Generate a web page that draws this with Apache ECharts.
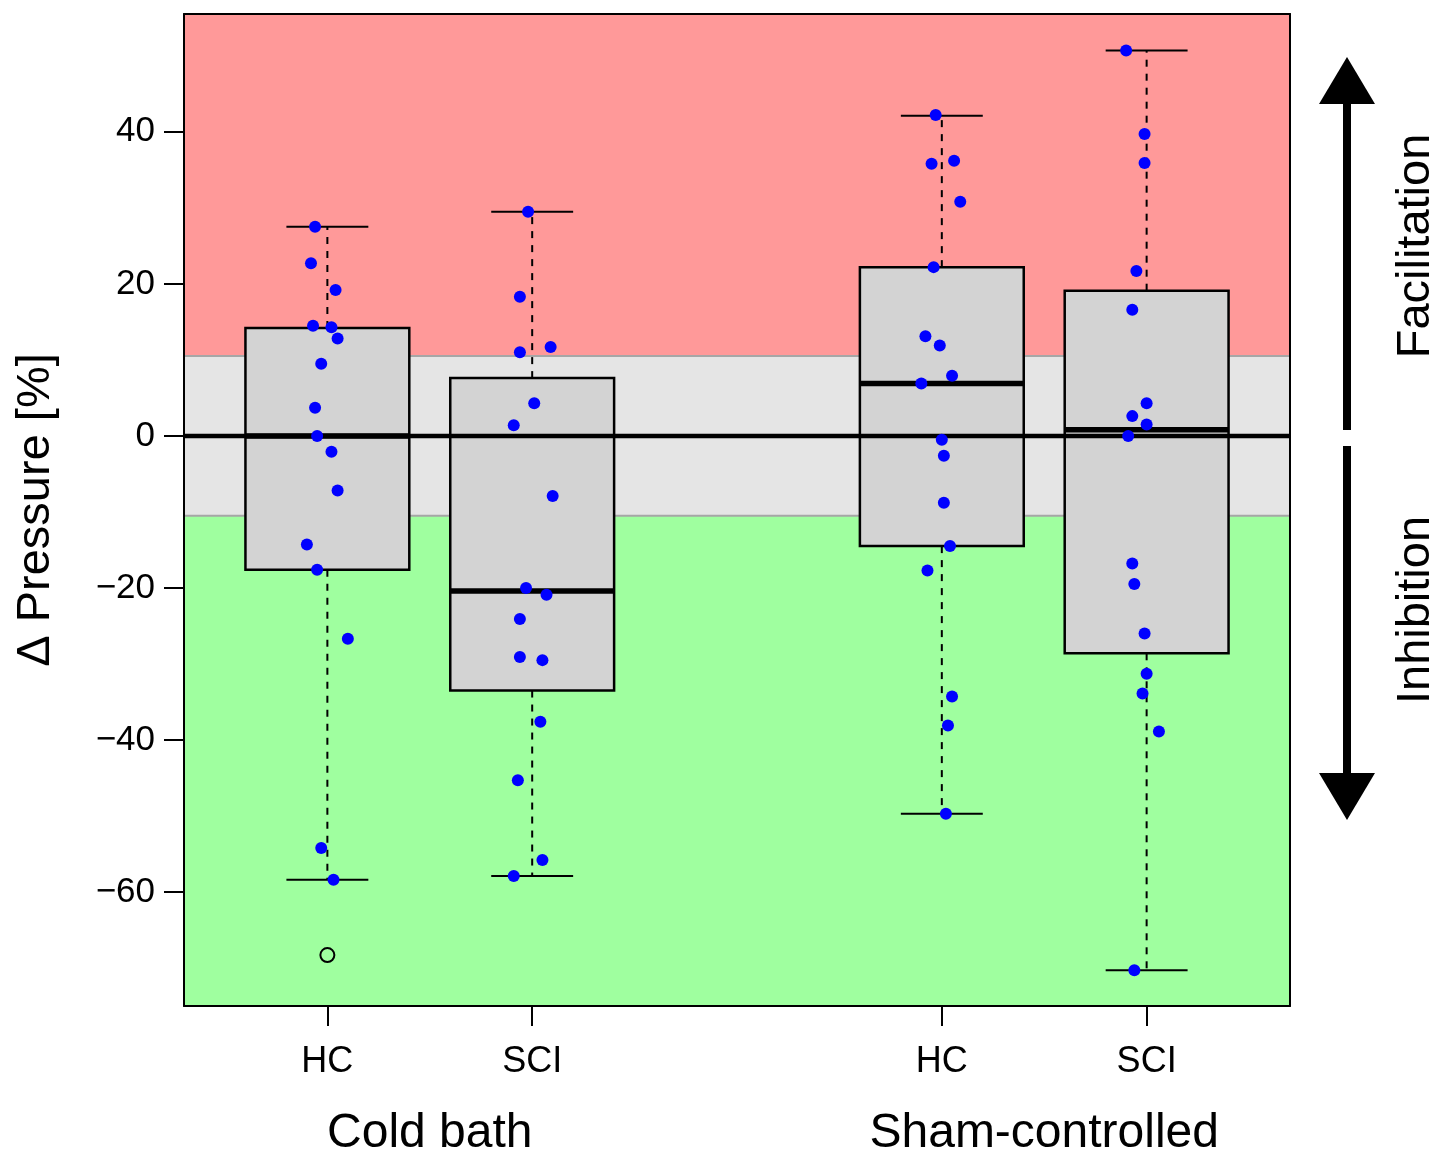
<!DOCTYPE html>
<html>
<head>
<meta charset="utf-8">
<script src="https://cdn.jsdelivr.net/npm/echarts@6/dist/echarts.min.js"></script>
<style>
  html, body { margin: 0; padding: 0; background: #fff; }
  #chart { width: 1440px; height: 1156px; }
</style>
</head>
<body>
<div id="chart"></div>
<script>
// data
var xTickValues = [1, 2, 4, 5];
var xTickLabels = ['HC', 'SCI', 'HC', 'SCI'];
var groupValues = [1.5, 4.5];
var groupLabels = ['Cold bath', 'Sham-controlled'];
var yTickValues = [-60, -40, -20, 0, 20, 40];

// band edges: inhibition / neutral / facilitation
var bandEdges = [-75, -10.5, 10.5, 55.5];

// [position, low whisker, q1, median, q3, high whisker]
var boxStats = [
  [1, -58.4, -17.6, 0, 14.2, 27.5],
  [2, -57.9, -33.5, -20.4, 7.6, 29.5],
  [4, -49.7, -14.5, 6.9, 22.2, 42.1],
  [5, -70.3, -28.6, 0.8, 19.1, 50.7]
];
var outliers = [[1, -68.3]];

// jittered points [x, value]
var hcCold = [[0.94,27.5],[0.92,22.7],[1.04,19.2],[0.93,14.5],[1.02,14.3],[1.05,12.8],[0.97,9.5],[0.94,3.7],
  [0.95,0],[1.02,-2.1],[1.05,-7.2],[0.90,-14.3],[0.95,-17.6],[1.10,-26.7],[0.97,-54.2],[1.03,-58.4]];
var sciCold = [[1.98,29.5],[1.94,18.3],[2.09,11.7],[1.94,11.0],[2.01,4.3],[1.91,1.4],[2.10,-7.9],[1.97,-20.0],
  [2.07,-20.9],[1.94,-24.1],[1.94,-29.1],[2.05,-29.5],[2.04,-37.6],[1.93,-45.3],[2.05,-55.8],[1.91,-57.9]];
var hcSham = [[3.97,42.2],[3.95,35.8],[4.06,36.2],[4.09,30.8],[3.96,22.2],[3.92,13.1],[3.99,11.9],[4.05,7.9],
  [3.90,6.9],[4.00,-0.5],[4.01,-2.6],[4.01,-8.8],[4.04,-14.5],[3.93,-17.7],[4.05,-34.3],[4.03,-38.1],[4.02,-49.7]];
var sciSham = [[4.90,50.7],[4.99,39.7],[4.99,35.9],[4.95,21.7],[4.93,16.6],[5.00,4.3],[4.93,2.6],[5.00,1.5],
  [4.91,0.0],[4.93,-16.8],[4.94,-19.5],[4.99,-26.0],[5.00,-31.3],[4.98,-33.9],[5.06,-38.9],[4.94,-70.3]];

var xMin = 0.3, xMax = 5.7;
var yMin = -75, yMax = 55.5;
var boxWidth = 0.8, capWidth = 0.4;
var bandColors = ['#9FFF9F', '#E5E5E5', '#FF9999'];
var font = 'Liberation Sans, Arial, Helvetica, sans-serif';

var myChart = echarts.init(document.getElementById('chart'));

var bandData = [];
for (var i = 0; i < bandEdges.length - 1; i++) {
  bandData.push([bandEdges[i], bandEdges[i + 1]]);
}

function bandItem(params, api) {
  var lo = api.value(0), hi = api.value(1);
  var p1 = api.coord([xMin, hi]);
  var p2 = api.coord([xMax, lo]);
  return {
    type: 'rect',
    shape: { x: p1[0], y: p1[1], width: p2[0] - p1[0], height: p2[1] - p1[1] },
    style: { fill: bandColors[params.dataIndex] }
  };
}

function edgeItem(params, api) {
  var v = api.value(0);
  var a = api.coord([xMin, v]), b = api.coord([xMax, v]);
  return {
    type: 'line',
    shape: { x1: a[0], y1: a[1], x2: b[0], y2: b[1] },
    style: { stroke: '#A6A6A6', lineWidth: 2 }
  };
}

function boxItem(params, api) {
  var x = api.value(0);
  var lo = api.value(1), q1 = api.value(2), med = api.value(3), q3 = api.value(4), hi = api.value(5);
  var hw = api.size([boxWidth, 0])[0] / 2;
  var cw = api.size([capWidth, 0])[0] / 2;
  var pLo = api.coord([x, lo]), pQ1 = api.coord([x, q1]), pMed = api.coord([x, med]);
  var pQ3 = api.coord([x, q3]), pHi = api.coord([x, hi]);
  var dash = { stroke: '#000', lineWidth: 2, lineDash: [7, 7] };
  var solid = { stroke: '#000', lineWidth: 2 };
  return {
    type: 'group',
    children: [
      { type: 'line', shape: { x1: pQ3[0], y1: pQ3[1], x2: pHi[0], y2: pHi[1] }, style: dash },
      { type: 'line', shape: { x1: pQ1[0], y1: pQ1[1], x2: pLo[0], y2: pLo[1] }, style: dash },
      { type: 'line', shape: { x1: pHi[0] - cw, y1: pHi[1], x2: pHi[0] + cw, y2: pHi[1] }, style: solid },
      { type: 'line', shape: { x1: pLo[0] - cw, y1: pLo[1], x2: pLo[0] + cw, y2: pLo[1] }, style: solid },
      { type: 'rect', shape: { x: pQ3[0] - hw, y: pQ3[1], width: hw * 2, height: pQ1[1] - pQ3[1] },
        style: { fill: '#D3D3D3', stroke: '#000', lineWidth: 2.5 } },
      { type: 'line', shape: { x1: pMed[0] - hw, y1: pMed[1], x2: pMed[0] + hw, y2: pMed[1] },
        style: { stroke: '#000', lineWidth: 5.5 } }
    ]
  };
}

function pointSeries(data) {
  return {
    type: 'scatter',
    data: data,
    symbol: 'circle',
    symbolSize: 12,
    itemStyle: { color: '#0000FF', opacity: 1 },
    z: 5,
    silent: true
  };
}

var option = {
  animation: false,
  grid: { left: 184, right: 150, top: 14, bottom: 150, outerBoundsMode: 'none', containLabel: false },
  xAxis: [
    {
      type: 'value', min: xMin, max: xMax, position: 'bottom', z: 10,
      axisLine: { show: true, onZero: false, lineStyle: { color: '#000', width: 2 } },
      axisTick: { show: true, customValues: xTickValues, length: 20, lineStyle: { color: '#000', width: 2 } },
      axisLabel: {
        customValues: xTickValues, margin: 38, color: '#000', fontSize: 36, fontFamily: font,
        formatter: function (v) { return xTickLabels[xTickValues.indexOf(v)]; }
      },
      splitLine: { show: false }
    },
    {
      type: 'value', min: xMin, max: xMax, position: 'bottom', z: 10,
      axisLine: { show: false }, axisTick: { show: false },
      axisLabel: {
        customValues: groupValues, margin: 104, color: '#000', fontSize: 48, fontFamily: font,
        formatter: function (v) { return groupLabels[groupValues.indexOf(v)]; }
      },
      splitLine: { show: false }
    },
    {
      type: 'value', min: xMin, max: xMax, position: 'top', z: 10,
      axisLine: { show: true, onZero: false, lineStyle: { color: '#000', width: 2 } },
      axisTick: { show: false }, axisLabel: { show: false }, splitLine: { show: false }
    }
  ],
  yAxis: [
    {
      type: 'value', min: yMin, max: yMax, position: 'left', z: 10,
      name: 'Δ Pressure [%]', nameLocation: 'middle', nameRotate: 90, nameGap: 124,
      nameTextStyle: { color: '#000', fontSize: 47, fontFamily: font },
      axisLine: { show: true, onZero: false, lineStyle: { color: '#000', width: 2 } },
      axisTick: { show: true, customValues: yTickValues, length: 20, lineStyle: { color: '#000', width: 2 } },
      axisLabel: {
        customValues: yTickValues, margin: 29, color: '#000', fontSize: 35, fontFamily: font,
        formatter: function (v) { return String(v).replace('-', '\u2212'); }
      },
      splitLine: { show: false }
    },
    {
      type: 'value', min: yMin, max: yMax, position: 'right', z: 10,
      axisLine: { show: true, onZero: false, lineStyle: { color: '#000', width: 2 } },
      axisTick: { show: false }, axisLabel: { show: false }, splitLine: { show: false }
    }
  ],
  series: [
    {
      type: 'custom', renderItem: bandItem, data: bandData, z: 1, silent: true,
      encode: { x: -1, y: [0, 1] }
    },
    {
      type: 'custom', renderItem: edgeItem, data: [[bandEdges[1]], [bandEdges[2]]], z: 1, silent: true,
      encode: { x: -1, y: 0 }
    },
    {
      type: 'custom', renderItem: boxItem, data: boxStats, z: 2, silent: true,
      encode: { x: 0, y: [1, 2, 3, 4, 5] }
    },
    {
      type: 'custom', renderItem: function (params, api) {
        var a = api.coord([xMin, api.value(0)]), b = api.coord([xMax, api.value(0)]);
        return { type: 'line', shape: { x1: a[0], y1: a[1], x2: b[0], y2: b[1] },
          style: { stroke: '#000', lineWidth: 4.5 } };
      },
      data: [[0]], z: 3, silent: true, encode: { x: -1, y: 0 }
    },
    {
      type: 'scatter', data: outliers, symbol: 'circle', symbolSize: 14, z: 4, silent: true,
      itemStyle: { color: 'rgba(0,0,0,0)', borderColor: '#000', borderWidth: 2, opacity: 1 }
    },
    pointSeries(hcCold),
    pointSeries(sciCold),
    pointSeries(hcSham),
    pointSeries(sciSham)
  ],
  graphic: [
    { type: 'polygon', shape: { points: [[1347, 57], [1375, 104], [1319, 104]] }, style: { fill: '#000' } },
    { type: 'rect', shape: { x: 1343, y: 103, width: 8, height: 327 }, style: { fill: '#000' } },
    { type: 'rect', shape: { x: 1343, y: 446, width: 8, height: 328 }, style: { fill: '#000' } },
    { type: 'polygon', shape: { points: [[1319, 773], [1375, 773], [1347, 820]] }, style: { fill: '#000' } },
    {
      type: 'text', x: 1416, y: 246, rotation: Math.PI / 2,
      style: { text: 'Facilitation', fill: '#000', font: '47px ' + font, textAlign: 'center', textVerticalAlign: 'middle' }
    },
    {
      type: 'text', x: 1416, y: 610, rotation: Math.PI / 2,
      style: { text: 'Inhibition', fill: '#000', font: '47px ' + font, textAlign: 'center', textVerticalAlign: 'middle' }
    }
  ]
};

myChart.setOption(option);
</script>
</body>
</html>
